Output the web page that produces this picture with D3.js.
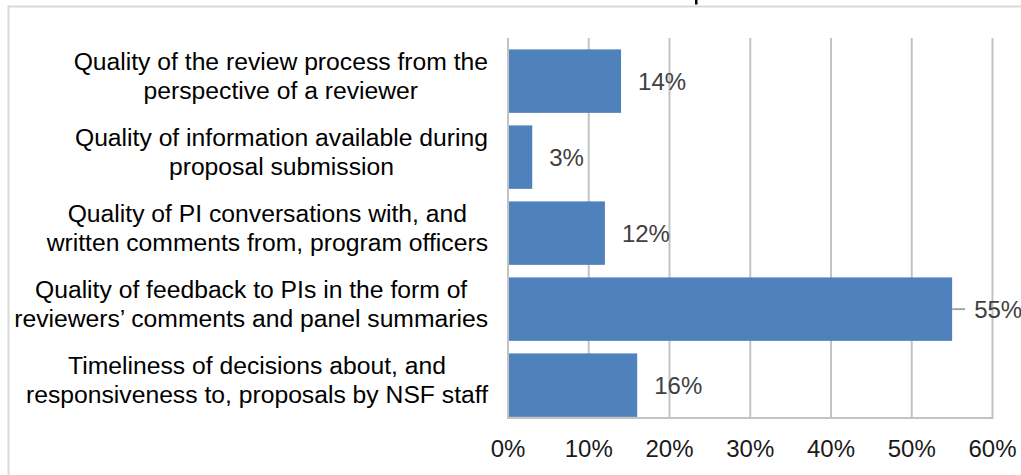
<!DOCTYPE html>
<html>
<head>
<meta charset="utf-8">
<script src="https://cdn.jsdelivr.net/npm/d3@7"></script>
<style>
  html, body { margin: 0; padding: 0; background: #fff; }
  svg { display: block; font-family: "Liberation Sans", Arial, sans-serif; }
</style>
</head>
<body>
<svg id="chart" width="1021" height="475"></svg>
<script>
// categories, top to bottom (each one split in two lines like the original)
let categories = [
    ['Quality of the review process from the', 'perspective of a reviewer'],
    ['Quality of information available during', 'proposal submission'],
    ['Quality of PI conversations with, and', 'written comments from, program officers'],
    ['Quality of feedback to PIs in the form of', 'reviewers\u2019 comments and panel summaries'],
    ['Timeliness of decisions about, and', 'responsiveness to, proposals by NSF staff']
];
let values = [0.14, 0.03, 0.12, 0.55, 0.16];
let xTicks = [0, 0.1, 0.2, 0.3, 0.4, 0.5, 0.6];

let svg = d3.select('#chart');
let fmt = d3.format('.0%');

//外框
svg.append('rect')
    .attr('x', 8.5).attr('y', 6.5)
    .attr('width', 1100).attr('height', 600)
    .attr('fill', 'none')
    .attr('stroke', '#d9d9d9')
    .attr('stroke-width', 2);
//被裁掉的标题残余
svg.append('rect')
    .attr('x', 695).attr('y', 0)
    .attr('width', 2.5).attr('height', 4.5)
    .attr('fill', '#000');

let plotTop = 38, plotBottom = 418;
let x = d3.scaleLinear().domain([0, 0.6]).range([508, 992.5]);
let y = d3.scaleBand().domain(d3.range(categories.length)).range([plotTop, plotBottom]).padding(0);
let bw = y.bandwidth();

//网格线
svg.append('g').selectAll('line')
    .data(xTicks)
    .enter()
    .append('line')
    .attr('x1', d => x(d)).attr('x2', d => x(d))
    .attr('y1', plotTop).attr('y2', plotBottom)
    .attr('stroke', '#c3c3c3')
    .attr('stroke-width', 2);

//bars
svg.append('g').selectAll('rect')
    .data(values)
    .enter()
    .append('rect')
    .attr('x', x(0) + 1)
    .attr('y', (d, i) => y(i) + bw * 0.15)
    .attr('width', d => x(d) - x(0) - 1)
    .attr('height', bw * 0.835)
    .attr('fill', '#4f81bd');

//x轴线
svg.append('line')
    .attr('x1', x(0) - 1).attr('x2', x(0.6) + 1)
    .attr('y1', plotBottom).attr('y2', plotBottom)
    .attr('stroke', '#c3c3c3')
    .attr('stroke-width', 2);

//x轴刻度文字
svg.append('g').selectAll('text')
    .data(xTicks)
    .enter()
    .append('text')
    .attr('x', d => x(d))
    .attr('y', 457)
    .attr('text-anchor', 'middle')
    .attr('font-size', 24)
    .attr('fill', '#1a1a1a')
    .text(d => fmt(d));

//数据标签, 55%那个有引导线
let labelG = svg.append('g');
values.forEach((v, i) => {
    let cy = y(i) + bw * 0.15 + bw * 0.835 / 2;
    let long = v > 0.5;
    if (long) {
        labelG.append('line')
            .attr('x1', x(v)).attr('x2', x(v) + 13)
            .attr('y1', cy).attr('y2', cy)
            .attr('stroke', '#a6a6a6')
            .attr('stroke-width', 2);
    }
    labelG.append('text')
        .attr('x', x(v) + (long ? 22 : 17))
        .attr('y', cy)
        .attr('dy', '0.36em')
        .attr('font-size', 24)
        .attr('fill', '#404040')
        .text(fmt(v));
});

//类别标签: 每块内部居中, 整块右对齐
let catG = svg.append('g');
categories.forEach((lines, i) => {
    let cy = y(i) + bw / 2;
    let t = catG.append('text')
        .attr('font-size', 24.7)
        .attr('fill', '#000')
        .attr('text-anchor', 'middle');
    let spans = lines.map((l, k) => t.append('tspan')
        .attr('y', cy + (k - (lines.length - 1) / 2) * 29)
        .attr('dy', '0.35em')
        .text(l));
    let maxW = d3.max(spans, s => s.node().getComputedTextLength());
    spans.forEach(s => s.attr('x', 488 - maxW / 2));
});
</script>
</body>
</html>
